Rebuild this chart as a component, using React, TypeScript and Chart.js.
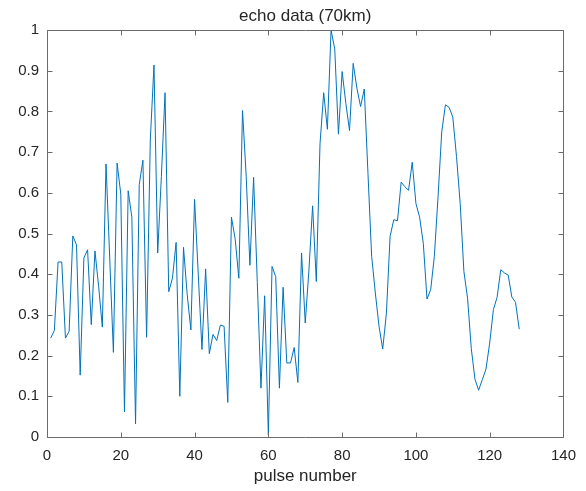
import React, { useEffect, useRef } from "react";
import { Chart, registerables } from "chart.js";

Chart.register(...registerables);

const pulseNumbers = [
  1, 2, 3, 4, 5, 6, 7, 8, 9, 10, 11, 12, 13, 14, 15, 16, 17, 18, 19, 20,
  21, 22, 23, 24, 25, 26, 27, 28, 29, 30, 31, 32, 33, 34, 35, 36, 37, 38, 39, 40,
  41, 42, 43, 44, 45, 46, 47, 48, 49, 50, 51, 52, 53, 54, 55, 56, 57, 58, 59, 60,
  61, 62, 63, 64, 65, 66, 67, 68, 69, 70, 71, 72, 73, 74, 75, 76, 77, 78, 79, 80,
  81, 82, 83, 84, 85, 86, 87, 88, 89, 90, 91, 92, 93, 94, 95, 96, 97, 98, 99, 100,
  101, 102, 103, 104, 105, 106, 107, 108, 109, 110, 111, 112, 113, 114, 115, 116, 117, 118, 119, 120,
  121, 122, 123, 124, 125, 126, 127, 128,
];

const echoValues = [
  0.243, 0.262, 0.43, 0.43, 0.243, 0.26, 0.494, 0.472, 0.152, 0.44,
  0.46, 0.276, 0.457, 0.37, 0.27, 0.671, 0.44, 0.208, 0.673, 0.597,
  0.062, 0.605, 0.54, 0.032, 0.62, 0.68, 0.245, 0.73, 0.914, 0.452,
  0.64, 0.846, 0.357, 0.39, 0.478, 0.1, 0.466, 0.35, 0.263, 0.584,
  0.4, 0.215, 0.413, 0.205, 0.252, 0.237, 0.275, 0.272, 0.085, 0.54,
  0.487, 0.39, 0.802, 0.64, 0.422, 0.638, 0.38, 0.12, 0.347, 0.005,
  0.419, 0.394, 0.12, 0.368, 0.182, 0.182, 0.22, 0.134, 0.452, 0.28,
  0.41, 0.568, 0.382, 0.72, 0.846, 0.756, 1.0, 0.953, 0.744, 0.898,
  0.82, 0.753, 0.918, 0.857, 0.812, 0.855, 0.648, 0.444, 0.354, 0.272,
  0.216, 0.304, 0.493, 0.534, 0.531, 0.626, 0.615, 0.606, 0.675, 0.574,
  0.54, 0.476, 0.339, 0.362, 0.444, 0.591, 0.75, 0.816, 0.81, 0.786,
  0.689, 0.574, 0.407, 0.341, 0.218, 0.142, 0.115, 0.141, 0.167, 0.231,
  0.313, 0.343, 0.411, 0.403, 0.398, 0.344, 0.331, 0.265,
];

const xTickValues = [0, 20, 40, 60, 80, 100, 120, 140];
const xTickLabels = ["0", "20", "40", "60", "80", "100", "120", "140"];
const yTickValues = [0, 0.1, 0.2, 0.3, 0.4, 0.5, 0.6, 0.7, 0.8, 0.9, 1];
const yTickLabels = ["0", "0.1", "0.2", "0.3", "0.4", "0.5", "0.6", "0.7", "0.8", "0.9", "1"];

const titleText = "echo data (70km)";
const xAxisTitle = "pulse number";

const FONT = '"Liberation Sans", Arial, Helvetica, sans-serif';
const TEXT_COLOR = "#262626";
const AXIS_COLOR = "#6b6b6b";
const LINE_COLOR = "#0072BD";

const matlabAxesPlugin = {
  id: "matlabAxes",
  afterDraw(chart: any) {
    const { ctx, chartArea } = chart;
    const xs = chart.scales.x;
    const ys = chart.scales.y;
    const L = Math.round(chartArea.left) + 0.5;
    const R = Math.round(chartArea.right) + 0.5;
    const T = Math.round(chartArea.top) + 0.5;
    const B = Math.round(chartArea.bottom) + 0.5;
    const tl = 5;
    ctx.save();
    ctx.strokeStyle = AXIS_COLOR;
    ctx.lineWidth = 1;
    ctx.beginPath();
    ctx.rect(L, T, R - L, B - T);
    for (const v of xTickValues) {
      const px = Math.round(xs.getPixelForValue(v)) + 0.5;
      ctx.moveTo(px, B);
      ctx.lineTo(px, B - tl);
      ctx.moveTo(px, T);
      ctx.lineTo(px, T + tl);
    }
    for (const v of yTickValues) {
      const py = Math.round(ys.getPixelForValue(v)) + 0.5;
      ctx.moveTo(L, py);
      ctx.lineTo(L + tl, py);
      ctx.moveTo(R, py);
      ctx.lineTo(R - tl, py);
    }
    ctx.stroke();

    // title centred over the plot area
    ctx.fillStyle = TEXT_COLOR;
    ctx.font = `normal 17px ${FONT}`;
    ctx.textAlign = "center";
    ctx.textBaseline = "alphabetic";
    ctx.fillText(titleText, (chartArea.left + chartArea.right) / 2, chartArea.top - 9);
    ctx.restore();
  },
};

export default function App() {
  const canvasRef = useRef<HTMLCanvasElement | null>(null);

  useEffect(() => {
    document.body.style.margin = "0";
    const canvas = canvasRef.current;
    if (!canvas) return;
    const chart = new Chart(canvas, {
      type: "line",
      data: {
        datasets: [
          {
            data: pulseNumbers.map((p, i) => ({ x: p, y: echoValues[i] })),
            borderColor: LINE_COLOR,
            borderWidth: 1,
            pointRadius: 0,
            tension: 0,
            fill: false,
          },
        ],
      },
      options: {
        animation: false,
        responsive: false,
        devicePixelRatio: 1,
        layout: { padding: { top: 30, right: 22, bottom: 0, left: 0 } },
        plugins: {
          legend: { display: false },
          tooltip: { enabled: false },
          title: { display: false },
        },
        scales: {
          x: {
            type: "linear",
            min: 0,
            max: 140,
            afterFit: (scale: any) => {
              scale.height = 54;
            },
            afterBuildTicks: (scale: any) => {
              scale.ticks = xTickValues.map((v) => ({ value: v }));
            },
            grid: { display: false, drawTicks: false },
            border: { display: false },
            ticks: {
              autoSkip: false,
              maxRotation: 0,
              padding: 10,
              color: TEXT_COLOR,
              font: { family: FONT, size: 15 },
              callback: (v: any) => {
                const idx = xTickValues.indexOf(Number(v));
                return idx >= 0 ? xTickLabels[idx] : "";
              },
            },
            title: {
              display: true,
              text: xAxisTitle,
              color: TEXT_COLOR,
              font: { family: FONT, size: 17 },
              padding: { top: 0, bottom: 4.4 },
            },
          },
          y: {
            type: "linear",
            min: 0,
            max: 1,
            afterFit: (scale: any) => {
              scale.width = 47;
            },
            afterBuildTicks: (scale: any) => {
              scale.ticks = yTickValues.map((v) => ({ value: v }));
            },
            grid: { display: false, drawTicks: false },
            border: { display: false },
            ticks: {
              autoSkip: false,
              padding: 8,
              color: TEXT_COLOR,
              font: { family: FONT, size: 15 },
              callback: (v: any) => {
                const idx = yTickValues.findIndex((t) => Math.abs(t - Number(v)) < 1e-9);
                return idx >= 0 ? yTickLabels[idx] : "";
              },
            },
          },
        },
      },
      plugins: [matlabAxesPlugin],
    });
    return () => {
      chart.destroy();
    };
  }, []);

  return (
    <div style={{ width: 586, height: 491, background: "#ffffff" }}>
      <canvas ref={canvasRef} width={586} height={491} style={{ display: "block" }} />
    </div>
  );
}
